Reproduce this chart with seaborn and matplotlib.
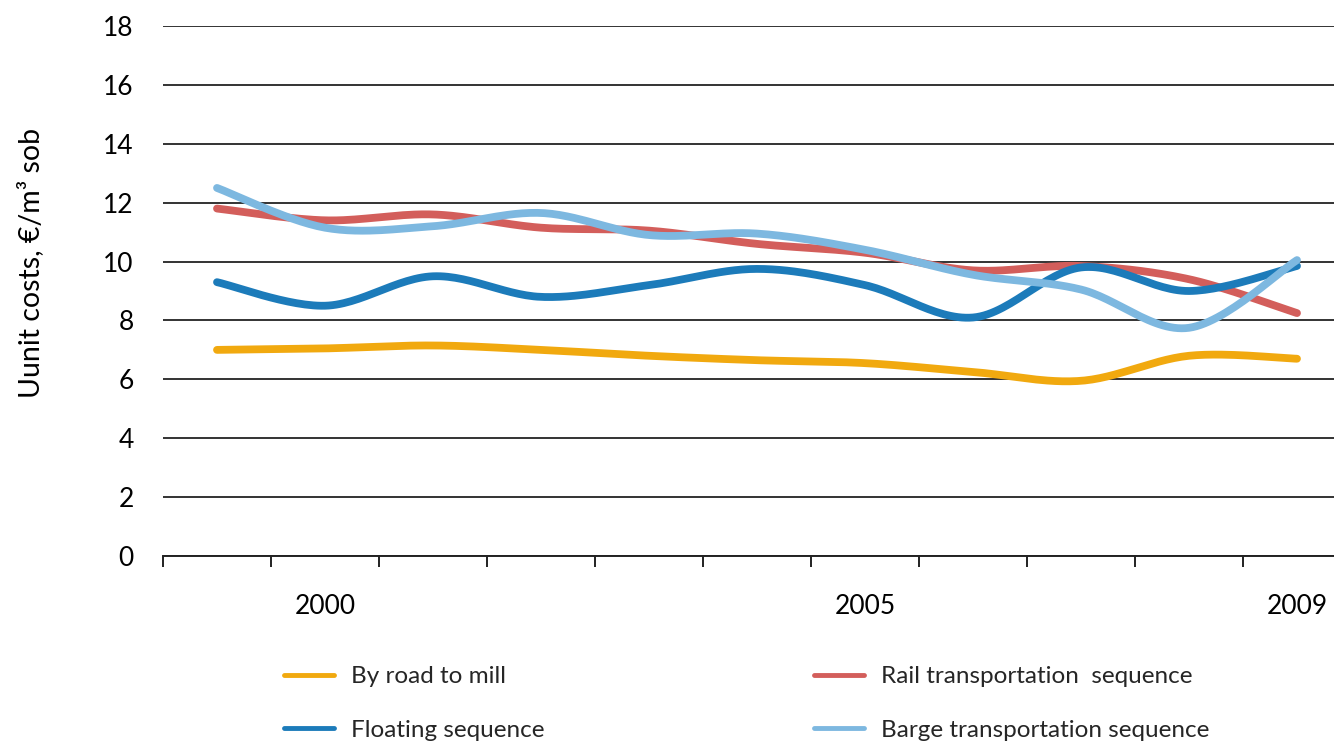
import numpy as np
import pandas as pd
import matplotlib
matplotlib.use("Agg")
import matplotlib.pyplot as plt
import seaborn as sns

# Data
years = [1999, 2000, 2001, 2002, 2003, 2004, 2005, 2006, 2007, 2008, 2009]
road = [7.0, 7.05, 7.15, 7.0, 6.8, 6.65, 6.55, 6.25, 5.95, 6.8, 6.7]
rail = [11.8, 11.4, 11.6, 11.15, 11.05, 10.6, 10.3, 9.7, 9.85, 9.4, 8.25]
floating = [9.3, 8.5, 9.5, 8.8, 9.2, 9.75, 9.2, 8.1, 9.8, 9.0, 9.85]
barge = [12.5, 11.15, 11.2, 11.65, 10.9, 10.95, 10.4, 9.55, 9.05, 7.75, 10.05]

series_names = ["By road to mill", "Rail transportation  sequence",
                "Floating sequence", "Barge transportation sequence"]
series_values = [road, rail, floating, barge]
colors = ["#F1A90F", "#D35E5B", "#1C7BBA", "#7DB8E0"]
xlabels = {2000: "2000", 2005: "2005", 2009: "2009"}


def smooth(xs, ys, n=30):
    # Excel-like smoothed line: Bezier segments with Catmull-Rom control points
    p = np.column_stack([xs, ys]).astype(float)
    p = np.vstack([p[0], p, p[-1]])
    out = []
    t = np.linspace(0, 1, n)[:, None]
    for i in range(1, len(p) - 2):
        p0, p1, p2, p3 = p[i - 1], p[i], p[i + 1], p[i + 2]
        c1 = p1 + (p2 - p0) / 6
        c2 = p2 - (p3 - p1) / 6
        seg = ((1 - t) ** 3) * p1 + 3 * ((1 - t) ** 2) * t * c1 + 3 * (1 - t) * t ** 2 * c2 + t ** 3 * p2
        out.append(seg if i == 1 else seg[1:])
    return np.vstack(out)


rows = []
for name, vals in zip(series_names, series_values):
    curve = smooth(years, vals)
    for cx, cy in curve:
        rows.append({"x": cx, "y": cy, "series": name})
df = pd.DataFrame(rows)

sns.set_theme(style="white")
plt.rcParams['font.family'] = ['Lato', 'DejaVu Sans']

fig = plt.figure(figsize=(13.34, 7.41), dpi=100)
ax = fig.add_axes([163 / 1334, 185 / 741, 1188 / 1334, 530 / 741])

for name, col in zip(series_names, colors):
    sub = df[df["series"] == name]
    sns.lineplot(data=sub, x="x", y="y", sort=False, estimator=None,
                 color=col, linewidth=5.6, ax=ax, label=name,
                 solid_capstyle="round", zorder=3)

ax.set_xlim(years[0] - 0.5, years[-1] + 0.5)
ax.set_ylim(0, 18)
ax.set_yticks(range(0, 19, 2))
ax.yaxis.grid(True, color="#333333", linewidth=1.4)
ax.xaxis.grid(False)
for s in ["top", "right", "left"]:
    ax.spines[s].set_visible(False)
ax.spines["bottom"].set_color("#222222")
ax.spines["bottom"].set_linewidth(1.4)
ax.spines["bottom"].set_zorder(4)

ax.set_xticks(list(xlabels.keys()))
ax.set_xticklabels(list(xlabels.values()))
ax.set_xticks([y - 0.5 for y in years] + [years[-1] + 0.5], minor=True)
ax.tick_params(axis="x", which="major", length=0, pad=27, labelsize=19, labelcolor="black")
ax.tick_params(axis="x", which="minor", length=8, width=1.4, color="#222222", direction="out", bottom=True)
ax.tick_params(axis="y", length=0, pad=21, labelsize=19, labelcolor="black")

ax.set_xlabel("")
ax.set_ylabel("Uunit costs, €/m³ sob", fontsize=20.5, color="black")
ax.yaxis.set_label_coords(-0.1, 0.553)

if ax.get_legend():
    ax.get_legend().remove()
handles, labels = ax.get_legend_handles_labels()
order = [0, 2, 1, 3]
leg = fig.legend([handles[i] for i in order], [labels[i] for i in order],
                 ncol=2, loc="center left", bbox_to_anchor=(262 / 1334, 37.5 / 741),
                 frameon=False, fontsize=17.5, handlelength=2.05, handletextpad=0.7,
                 columnspacing=11.1, labelspacing=1.32)
for h in leg.get_lines():
    h.set_linewidth(3.5)

fig.savefig("out.png", dpi=100)
